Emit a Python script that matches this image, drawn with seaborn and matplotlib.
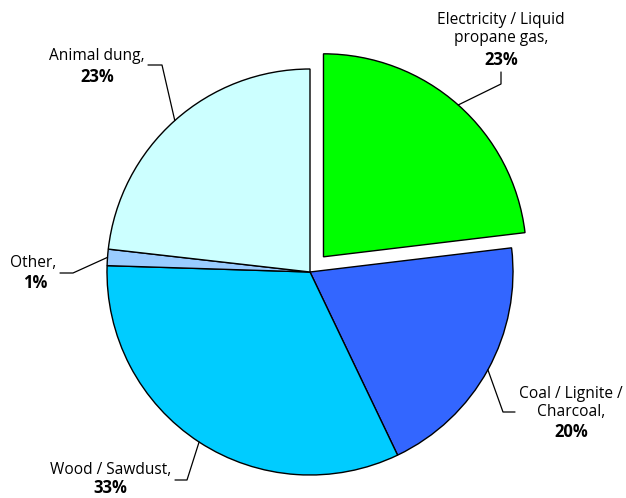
import numpy as np
import seaborn as sns
import matplotlib.pyplot as plt

sources = ["Electricity / Liquid\npropane gas,", "Coal / Lignite /\nCharcoal,",
           "Wood / Sawdust,", "Other,", "Animal dung,"]
shares = [23.1, 19.8, 32.6, 1.3, 23.2]
colors = ["#00FF00", "#3366FF", "#00CCFF", "#99CCFF", "#CCFFFF"]

W, H = 626, 498
CX, CY, R = 310, 272, 203


def px(x, y):
    # pixel coordinates -> data coordinates (pie radius = 1)
    return (x - CX) / R, (CY - y) / R


sns.set_theme(style="white")
plt.rcParams['font.family'] = ['Open Sans', 'DejaVu Sans']

fig = plt.figure(figsize=(W / 100, H / 100), dpi=100)
ax = fig.add_axes([0, 0, 1, 1])

wedges, _ = ax.pie(shares, colors=colors, startangle=90, counterclock=False,
                   explode=[0.1, 0, 0, 0, 0], radius=1,
                   wedgeprops=dict(edgecolor="black", linewidth=1.0))
ax.set_xlim(-CX / R, (W - CX) / R)
ax.set_ylim(-(H - CY) / R, CY / R)
ax.set_aspect("equal")
ax.axis("off")

# label layout: name center, pct center, elbow point, end of leader (pixels)
layout = [
    dict(name=(501, 29), pct=(501, 60), elbow=(501, 84), end=(501, 72)),
    dict(name=(571, 403), pct=(571, 432), elbow=(503, 412), end=(515, 412)),
    dict(name=(111, 470), pct=(110, 488), elbow=(187, 480), end=(175, 480)),
    dict(name=(33, 263), pct=(35, 283), elbow=(73, 273), end=(60, 273)),
    dict(name=(97, 56), pct=(97, 77), elbow=(162, 65), end=(148, 65)),
]

fs = 11.2
for w, name, pct, lay in zip(wedges, sources, shares, layout):
    mid = np.deg2rad((w.theta1 + w.theta2) / 2)
    ex = w.center[0] + w.r * np.cos(mid)
    ey = w.center[1] + w.r * np.sin(mid)
    bx, by = px(*lay["elbow"])
    tx, ty = px(*lay["end"])
    ax.plot([ex, bx, tx], [ey, by, ty], color="black", lw=0.9)
    nx, ny = px(*lay["name"])
    ax.text(nx, ny, name, ha="center", va="center", fontsize=fs,
            linespacing=1.15, color="black")
    qx, qy = px(*lay["pct"])
    ax.text(qx, qy, f"{pct:.0f}%", ha="center", va="center", fontsize=fs + 0.8,
            fontweight="bold", color="black")

fig.savefig("out.png", dpi=100)
